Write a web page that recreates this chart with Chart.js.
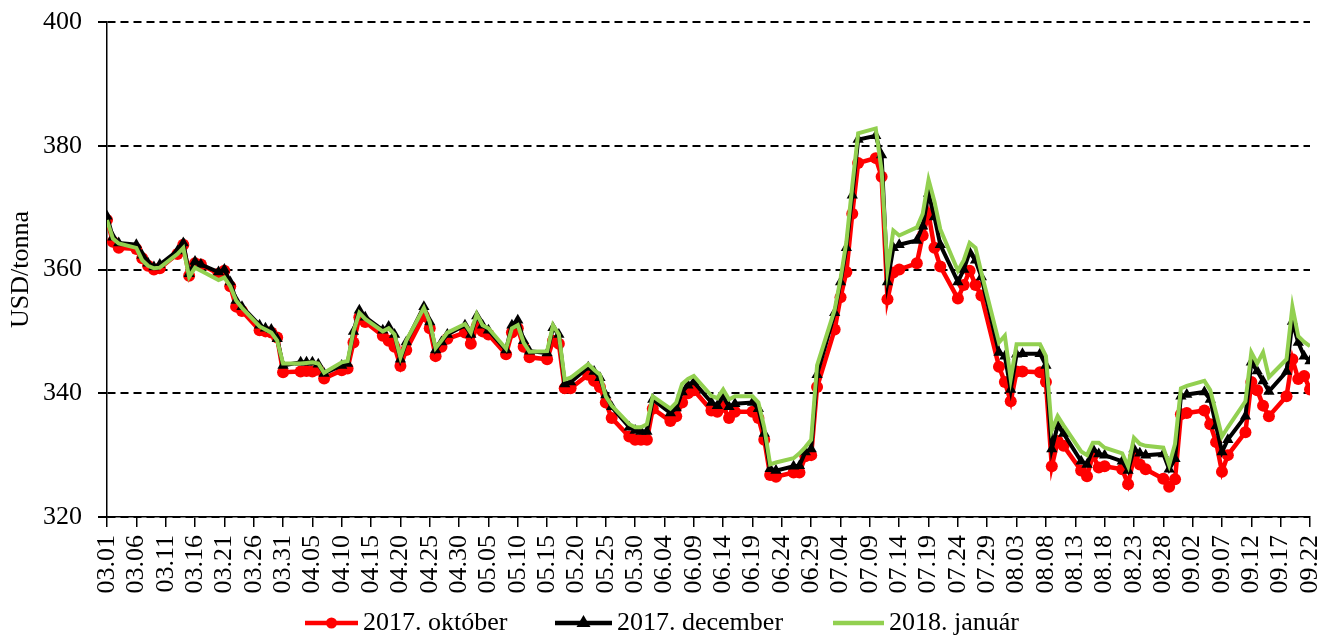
<!DOCTYPE html>
<html>
<head>
<meta charset="utf-8">
<script src="https://cdn.jsdelivr.net/npm/chart.js@4.4.1/dist/chart.umd.min.js"></script>
<style>
  html, body { margin: 0; padding: 0; background: #fff; }
  #wrap { width: 1320px; height: 637px; }
</style>
</head>
<body>
<div id="wrap"><canvas id="chart" width="1320" height="637"></canvas></div>
<script>
// napok (kereskedési napok, 2017)
const days = [
  '03.01','03.02','03.03','03.06','03.07','03.08','03.09','03.10','03.13','03.14','03.15','03.16','03.17',
  '03.20','03.21','03.22','03.23','03.24','03.27','03.28','03.29','03.30','03.31',
  '04.03','04.04','04.05','04.06','04.07','04.10','04.11','04.12','04.13','04.14','04.17','04.18','04.19','04.20','04.21',
  '04.24','04.25','04.26','04.27','04.28',
  '05.01','05.02','05.03','05.04','05.05','05.08','05.09','05.10','05.11','05.12','05.15','05.16','05.17','05.18','05.19',
  '05.22','05.23','05.24','05.25','05.26','05.29','05.30','05.31',
  '06.01','06.02','06.05','06.06','06.07','06.08','06.09','06.12','06.13','06.14','06.15','06.16','06.19','06.20','06.21',
  '06.22','06.23','06.26','06.27','06.28','06.29','06.30',
  '07.03','07.04','07.05','07.06','07.07','07.10','07.11','07.12','07.13','07.14','07.17','07.18','07.19','07.20','07.21',
  '07.24','07.25','07.26','07.27','07.28','07.31',
  '08.01','08.02','08.03','08.04','08.07','08.08','08.09','08.10','08.11','08.14','08.15','08.16','08.17','08.18',
  '08.21','08.22','08.23','08.24','08.25','08.28','08.29','08.30','08.31',
  '09.01','09.04','09.05','09.06','09.07','09.08','09.11','09.12','09.13','09.14','09.15','09.18','09.19','09.20','09.21','09.22'
];

const okt2017 = [
  368.0,364.5,363.5,363.3,361.8,360.6,360.0,360.2,362.5,364.0,359.0,361.0,360.8,
  359.3,359.8,357.3,354.0,353.3,350.2,350.0,349.8,349.0,343.4,
  343.5,343.6,343.5,343.8,342.4,343.7,344.0,348.2,352.3,351.5,349.3,348.5,347.5,344.4,347.0,
  352.5,350.5,346.0,347.5,348.8,
  349.8,348.0,350.8,350.0,349.5,346.3,349.8,350.5,347.5,345.8,345.5,348.5,348.0,340.8,340.8,
  343.0,342.0,341.0,338.5,336.0,333.0,332.5,332.5,
  332.5,337.5,335.5,336.3,338.5,340.0,340.5,337.2,337.0,337.8,336.0,337.0,337.0,336.0,332.5,
  326.8,326.5,327.2,327.2,329.8,330.0,341.0,
  350.3,355.5,359.6,369.0,377.2,378.0,375.0,355.2,359.5,360.0,361.0,365.5,369.0,363.5,360.5,
  355.3,357.5,359.8,357.5,355.8,344.3,
  341.8,338.7,343.5,343.5,343.4,341.8,328.2,332.3,331.5,327.5,326.6,330.0,328.0,328.2,
  327.7,325.3,329.7,328.5,327.7,326.2,324.9,326.1,336.6,
  336.8,337.2,335.0,332.1,327.3,330.0,333.7,341.8,340.5,338.0,336.3,339.5,345.5,342.3,342.8,340.6
];

const dec2017 = [
  368.6,365.2,364.3,364.0,362.3,361.0,360.4,360.8,363.0,364.3,359.3,361.3,360.8,
  359.6,360.0,358.0,355.0,354.0,351.0,350.5,350.3,348.8,344.5,
  345.0,345.0,345.0,344.7,343.2,344.5,344.8,350.0,353.4,352.3,350.2,350.8,349.5,345.5,348.3,
  354.0,351.5,347.0,348.3,349.5,
  351.0,349.5,352.5,351.0,350.2,347.0,351.0,351.8,348.5,346.8,346.5,350.6,349.5,341.5,341.8,
  344.2,343.5,342.5,339.7,337.8,334.5,334.0,333.8,
  333.8,339.0,336.8,337.6,340.2,341.3,341.8,338.5,338.0,339.5,337.8,338.3,338.5,337.5,333.5,
  327.8,327.5,328.2,328.3,330.5,331.0,343.0,
  353.0,358.0,363.5,372.0,381.0,381.6,378.5,358.0,363.5,364.0,364.7,367.0,372.3,368.5,364.0,
  358.0,360.0,362.8,361.5,358.8,346.6,
  346.0,340.6,346.3,346.4,346.4,344.5,331.0,334.8,333.5,329.0,328.5,331.0,330.2,330.0,
  329.0,327.5,331.0,330.3,330.0,330.2,327.7,329.4,339.5,
  339.8,340.2,339.0,334.7,330.5,332.5,336.3,345.0,343.6,342.0,340.3,343.5,351.6,348.2,346.0,345.2
];

const jan2018 = [
  368.0,365.0,364.2,363.5,361.5,360.6,360.2,360.3,362.5,363.5,358.8,360.3,359.8,
  358.3,358.7,357.3,355.0,353.8,350.8,350.3,349.8,348.5,344.8,
  344.8,344.9,345.0,344.8,343.3,345.0,345.2,350.0,353.0,352.0,350.0,350.5,349.5,345.8,348.5,
  353.8,351.5,347.3,348.5,349.8,
  351.2,349.8,352.8,351.0,350.5,347.2,350.5,351.0,348.2,346.7,346.8,351.0,349.5,342.2,342.5,
  344.7,343.8,343.0,339.5,338.0,335.0,334.5,334.5,
  335.0,339.5,337.5,338.5,341.5,342.3,342.8,339.6,339.2,340.6,339.0,339.5,339.5,338.5,334.5,
  328.5,328.8,329.5,330.3,331.3,332.5,344.5,
  353.5,358.5,364.5,373.5,382.0,382.8,376.0,360.0,366.3,365.5,366.8,369.0,374.5,371.0,366.5,
  359.8,361.5,364.3,363.5,359.5,348.2,
  349.3,342.3,347.9,347.9,347.9,346.0,334.0,336.3,334.8,330.6,330.0,332.0,332.0,331.2,
  330.3,328.2,332.8,331.8,331.5,331.2,328.4,331.8,340.8,
  341.2,342.0,340.5,336.8,333.0,334.5,338.7,346.6,344.8,346.6,342.6,345.5,354.0,349.2,348.3,347.6
];

const seriesNames = ['2017. október', '2017. december', '2018. január'];
const yMin = 320, yMax = 400, yStep = 20;
const firstDay = '03.01', lastDay = '09.22', tickEvery = 5;

// dátum <-> napsorszám (2017)
const YEAR = 2017;
function dayIndex(s) {
  const [m, d] = s.split('.').map(Number);
  const [m0, d0] = firstDay.split('.').map(Number);
  return (Date.UTC(YEAR, m - 1, d) - Date.UTC(YEAR, m0 - 1, d0)) / 86400000;
}
function dayLabel(i) {
  const [m0, d0] = firstDay.split('.').map(Number);
  const dt = new Date(Date.UTC(YEAR, m0 - 1, d0 + i));
  return String(dt.getUTCMonth() + 1).padStart(2, '0') + '.' + String(dt.getUTCDate()).padStart(2, '0');
}
const toPoints = arr => arr.map((v, i) => ({ x: dayIndex(days[i]), y: v }));

const FONT = 'Liberation Serif';

// saját jelmagyarázat alul
const legendItems = [
  { label: seriesNames[0], color: '#FF0000', x0: 305, x1: 358, marker: 'circle', tx: 363 },
  { label: seriesNames[1], color: '#000000', x0: 555, x1: 612, marker: 'triangle', tx: 617 },
  { label: seriesNames[2], color: '#92D050', x0: 833, x1: 884, marker: null, tx: 889 }
];
const bottomLegend = {
  id: 'bottomLegend',
  afterDraw(chart) {
    const ctx = chart.ctx;
    const y = 623;
    ctx.save();
    legendItems.forEach(it => {
      ctx.strokeStyle = it.color;
      ctx.lineWidth = 4.5;
      ctx.beginPath();
      ctx.moveTo(it.x0, y);
      ctx.lineTo(it.x1, y);
      ctx.stroke();
      const cx = (it.x0 + it.x1) / 2;
      ctx.fillStyle = it.color;
      if (it.marker === 'circle') {
        ctx.beginPath();
        ctx.arc(cx, y, 5.5, 0, Math.PI * 2);
        ctx.fill();
      } else if (it.marker === 'triangle') {
        ctx.beginPath();
        ctx.moveTo(cx, y - 8);
        ctx.lineTo(cx + 7, y + 4);
        ctx.lineTo(cx - 7, y + 4);
        ctx.closePath();
        ctx.fill();
      }
      ctx.fillStyle = '#000';
      ctx.font = '26px "' + FONT + '"';
      ctx.textBaseline = 'middle';
      ctx.textAlign = 'left';
      ctx.fillText(it.label, it.tx, y);
    });
    ctx.restore();
  }
};

const ctx = document.getElementById('chart').getContext('2d');
new Chart(ctx, {
  type: 'line',
  data: {
    datasets: [
      {
        label: seriesNames[0],
        data: toPoints(okt2017),
        borderColor: '#FF0000',
        backgroundColor: '#FF0000',
        borderWidth: 4.5,
        pointStyle: 'circle',
        pointRadius: 6,
        pointBorderWidth: 0,
        pointBackgroundColor: '#FF0000',
        order: 3
      },
      {
        label: seriesNames[1],
        data: toPoints(dec2017),
        borderColor: '#000000',
        backgroundColor: '#000000',
        borderWidth: 4,
        pointStyle: 'triangle',
        pointRadius: 6.5,
        pointBorderWidth: 0,
        pointBackgroundColor: '#000000',
        order: 2
      },
      {
        label: seriesNames[2],
        data: toPoints(jan2018),
        borderColor: '#92D050',
        backgroundColor: '#92D050',
        borderWidth: 4,
        pointRadius: 0,
        order: 1
      }
    ]
  },
  options: {
    responsive: false,
    animation: false,
    events: [],
    layout: { padding: { top: 22, right: 10, left: 0, bottom: 0 } },
    plugins: {
      legend: { display: false },
      tooltip: { enabled: false }
    },
    elements: { line: { tension: 0 } },
    scales: {
      x: {
        type: 'linear',
        min: 0,
        max: dayIndex(lastDay),
        ticks: {
          stepSize: tickEvery,
          autoSkip: false,
          maxRotation: 90,
          minRotation: 90,
          padding: 8,
          color: '#000',
          font: { family: FONT, size: 26 },
          callback: v => dayLabel(v)
        },
        grid: { drawOnChartArea: false, drawTicks: true, tickLength: 10, color: '#000', lineWidth: 1.5 },
        border: { display: true, color: '#000', width: 1.5 },
        afterFit: s => { s.height = 120; s.paddingLeft = 0; s.paddingRight = 0; }
      },
      y: {
        min: yMin,
        max: yMax,
        ticks: {
          stepSize: yStep,
          padding: 16,
          color: '#000',
          font: { family: FONT, size: 26 }
        },
        grid: { color: '#000', lineWidth: 2, tickLength: 9, drawTicks: true },
        border: { display: true, color: '#000', width: 1.5, dash: [8, 5] },
        title: {
          display: true,
          text: 'USD/tonna',
          color: '#000',
          font: { family: FONT, size: 26 },
          padding: { top: 6, bottom: 0 }
        },
        afterFit: s => { s.width = 107; s.paddingTop = 0; s.paddingBottom = 0; }
      }
    }
  },
  plugins: [bottomLegend]
});
</script>
</body>
</html>
